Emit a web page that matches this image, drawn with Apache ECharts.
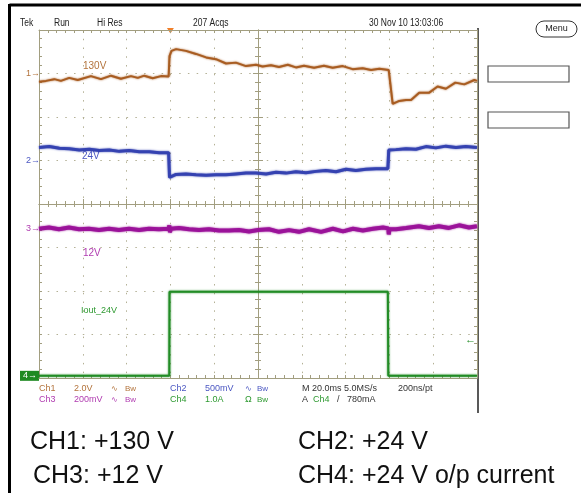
<!DOCTYPE html>
<html>
<head>
<meta charset="utf-8">
<script src="https://cdn.jsdelivr.net/npm/echarts@6/dist/echarts.min.js"></script>
<style>
  html, body { margin: 0; padding: 0; background: #fff; }
  #scope { width: 581px; height: 493px; }
</style>
</head>
<body>
<div id="scope"></div>
<script>
// time: ms from screen centre (20 ms/div), level: divisions from centre
const ch1Time = [-100, -96.8, -93.0, -90.0, -86.2, -82.3, -76.3, -71.7, -67.1, -62.6, -58.0, -54.9, -51.9, -48.1, -44.3, -40.8,
  -40.4, -39.5, -37.4, -32.9, -28.3, -23.7, -19.2, -14.6, -10.1, -5.5, -0.9, 2.1, 5.9, 9.6, 13.6, 17.3, 21.0, 25.6, 30.1,
  34.1, 38.7, 43.2, 47.8, 51.6, 55.4, 59.7, 61.5, 64.5, 67.6, 69.9, 73.6, 78.2, 82.0, 85.8, 90.1, 94.2, 98.8, 100];
const ch1Div = [2.81, 2.83, 2.87, 2.83, 2.90, 2.85, 2.94, 2.87, 2.95, 2.88, 2.94, 2.90, 2.95, 2.89, 2.94, 2.93,
  3.40, 3.52, 3.56, 3.52, 3.45, 3.37, 3.33, 3.23, 3.25, 3.17, 3.20, 3.16, 3.19, 3.15, 3.20, 3.14, 3.18, 3.13, 3.18,
  3.13, 3.17, 3.10, 3.12, 3.08, 3.11, 3.08, 2.30, 2.37, 2.39, 2.39, 2.56, 2.56, 2.70, 2.65, 2.79, 2.75, 2.85, 2.83];

const ch2Time = [-100, -95.3, -90.7, -86.2, -81.6, -77.0, -72.5, -67.9, -63.3, -58.8, -54.2, -49.6, -45.1, -40.8,
  -40.4, -37.4, -32.9, -28.3, -23.7, -19.2, -14.6, -10.1, -5.5, -0.9, 3.7, 8.2, 12.8, 17.3, 21.9, 26.5, 31.0, 35.6,
  40.2, 44.7, 49.3, 53.9, 59.3, 59.7, 63.0, 67.6, 72.1, 76.7, 81.2, 85.8, 90.4, 94.9, 100];
const ch2Div = [1.30, 1.32, 1.28, 1.27, 1.24, 1.26, 1.23, 1.24, 1.21, 1.23, 1.20, 1.20, 1.18, 1.18,
  0.61, 0.68, 0.69, 0.67, 0.66, 0.67, 0.67, 0.69, 0.71, 0.71, 0.69, 0.73, 0.71, 0.74, 0.72, 0.75, 0.77, 0.74,
  0.80, 0.77, 0.80, 0.81, 0.81, 1.24, 1.25, 1.27, 1.26, 1.32, 1.29, 1.33, 1.30, 1.32, 1.30];

const ch3Time = [-100, -95.4, -90.9, -86.3, -81.7, -77.2, -72.6, -68.0, -63.5, -58.9, -54.3, -49.8, -45.2, -40.8,
  -40.5, -40.2, -39.8, -36.1, -31.5, -26.9, -22.4, -17.8, -13.2, -8.7, -4.1, 0, 5.0, 9.6, 14.2, 18.7, 23.3, 28.8,
  34.2, 38.8, 43.4, 47.9, 52.5, 57.1, 59.5, 59.7, 60.0, 63.0, 67.6, 73.5, 78.1, 82.6, 87.2, 91.8, 96.3, 100];
const ch3Div = [-0.57, -0.54, -0.58, -0.54, -0.58, -0.57, -0.60, -0.57, -0.60, -0.57, -0.60, -0.57, -0.58, -0.57,
  -0.49, -0.65, -0.57, -0.55, -0.58, -0.60, -0.58, -0.61, -0.61, -0.60, -0.63, -0.60, -0.58, -0.64, -0.60, -0.64,
  -0.58, -0.64, -0.57, -0.63, -0.57, -0.61, -0.57, -0.54, -0.56, -0.70, -0.58, -0.58, -0.55, -0.51, -0.55, -0.51,
  -0.55, -0.49, -0.54, -0.51];

const ch4Time = [-100, -40.5, -40.4, 59.3, 59.5, 100];
const ch4Div = [-3.95, -3.95, -2.02, -2.02, -3.95, -3.95];

const refLevels = [3.0, 1.0, -0.56, -3.95];
const triggerTime = -40;
const triggerLevel = -3.13;

const gridColor = '#a29e80';
const dotColor = '#b3b095';
const traceColors = ['#a65a1e', '#3340b0', '#9a1199', '#1f8a22'];
const textColors = ['#b3733c', '#4b57c2', '#b03cb0', '#2f9a32'];
const font = '"Liberation Sans", Arial, sans-serif';

const chart = echarts.init(document.getElementById('scope'));

function axis(extra) {
  const a = {
    type: 'value',
    axisLabel: { show: false },
    splitLine: { show: false },
    axisLine: { show: true, onZero: false, lineStyle: { color: gridColor, width: 1 } },
    axisTick: { show: true, inside: true, length: 3, lineStyle: { color: gridColor } },
    minorTick: { show: true, splitNumber: 5, length: 3, lineStyle: { color: gridColor } }
  };
  return Object.assign(a, extra);
}
const xRange = { min: -100, max: 100, interval: 20 };
const yRange = { min: -4, max: 4, interval: 1 };
const dotted = { show: true, lineStyle: { color: dotColor, type: [1.5, 7.26], width: 1 } };
const centre = { show: true, onZero: true, onZeroAxisIndex: 0, lineStyle: { color: gridColor, width: 1 } };

function trace(t, v, color, width) {
  return {
    type: 'line',
    data: t.map((x, i) => [x, v[i]]),
    showSymbol: false,
    animation: false,
    silent: true,
    lineStyle: { color, width, shadowColor: color, shadowBlur: 2, opacity: 0.95 }
  };
}

chart.setOption({
  backgroundColor: '#fff',
  animation: false,
  grid: { left: 39, right: 104, top: 30, bottom: 115, outerBoundsMode: 'none' },
  xAxis: [
    axis(Object.assign({ position: 'bottom', splitLine: dotted }, xRange)),
    axis(Object.assign({ position: 'top' }, xRange)),
    axis(Object.assign({ position: 'bottom', axisLine: centre, axisTick: { show: true, inside: true, length: 5, lineStyle: { color: gridColor } } }, xRange)),
    axis(Object.assign({ position: 'bottom', axisLine: centre, axisTick: { show: true, inside: false, length: 5, lineStyle: { color: gridColor } } }, xRange))
  ],
  yAxis: [
    axis(Object.assign({ position: 'left', splitLine: dotted }, yRange)),
    axis(Object.assign({ position: 'right' }, yRange)),
    axis(Object.assign({ position: 'left', axisLine: centre, axisTick: { show: true, inside: true, length: 5, lineStyle: { color: gridColor } } }, yRange)),
    axis(Object.assign({ position: 'left', axisLine: centre, axisTick: { show: true, inside: false, length: 5, lineStyle: { color: gridColor } } }, yRange))
  ],
  series: [
    trace(ch1Time, ch1Div, traceColors[0], 2),
    trace(ch2Time, ch2Div, traceColors[1], 3),
    trace(ch3Time, ch3Div, traceColors[2], 4),
    trace(ch4Time, ch4Div, traceColors[3], 2)
  ]
});

function txt(x, y, text, fill, size, extra) {
  return Object.assign({
    type: 'text', x, y, silent: true,
    style: { text, fill, font: size + 'px ' + font, verticalAlign: 'middle' }
  }, extra || {});
}

const px = (t, v) => chart.convertToPixel({ xAxisIndex: 0, yAxisIndex: 0 }, [t, v]);
const leftX = px(-100, 0)[0];
const g = [];

// page frame
g.push({ type: 'line', silent: true, shape: { x1: 9.5, y1: 5, x2: 581, y2: 5 }, style: { stroke: '#000', lineWidth: 3 } });
g.push({ type: 'line', silent: true, shape: { x1: 9.5, y1: 4, x2: 9.5, y2: 493 }, style: { stroke: '#000', lineWidth: 3 } });
g.push({ type: 'line', silent: true, shape: { x1: 478, y1: 28, x2: 478, y2: 413 }, style: { stroke: '#222', lineWidth: 1.5 } });

// top status row
const narrow = { scaleX: 0.85 };
g.push(txt(20, 23, 'Tek', '#222', 10, narrow));
g.push(txt(54, 23, 'Run', '#222', 10, narrow));
g.push(txt(97, 23, 'Hi Res', '#222', 10, narrow));
g.push(txt(193, 23, '207 Acqs', '#222', 10, narrow));
g.push(txt(369, 23, '30 Nov 10 13:03:06', '#222', 10, narrow));
g.push({ type: 'rect', silent: true, shape: { x: 536, y: 21, width: 41, height: 16, r: 8 }, style: { fill: '#fff', stroke: '#333', lineWidth: 1 } });
g.push(txt(556.5, 29, 'Menu', '#222', 9, { style: { text: 'Menu', fill: '#222', font: '9px ' + font, align: 'center', verticalAlign: 'middle' } }));
g.push({ type: 'rect', silent: true, shape: { x: 488, y: 66, width: 81, height: 16 }, style: { fill: '#fff', stroke: '#555', lineWidth: 1.2 } });
g.push({ type: 'rect', silent: true, shape: { x: 488, y: 112, width: 81, height: 16 }, style: { fill: '#fff', stroke: '#555', lineWidth: 1.2 } });

// trigger position and level markers
const tp = px(triggerTime, 4);
g.push({ type: 'polygon', silent: true, shape: { points: [[tp[0] - 3.5, tp[1] - 2], [tp[0] + 3.5, tp[1] - 2], [tp[0], tp[1] + 3.5]] }, style: { fill: '#f07f2a' } });
const tl = px(100, triggerLevel);
g.push(txt(tl[0] - 1, tl[1], '\u2190', traceColors[3], 11, { style: { text: '\u2190', fill: traceColors[3], font: '11px ' + font, align: 'right', verticalAlign: 'middle' } }));

// channel ground markers
refLevels.forEach((lv, i) => {
  const y = px(-100, lv)[1];
  if (i === 3) {
    g.push({ type: 'rect', silent: true, shape: { x: 20, y: y - 5, width: leftX - 20, height: 10 }, style: { fill: traceColors[3] } });
    g.push(txt(23, y, '4\u2192', '#fff', 9));
  } else {
    g.push(txt(26, y, (i + 1) + '\u2192', textColors[i], 9));
  }
});

// channel captions on screen
g.push(txt(83, 66, '130V', textColors[0], 10));
g.push(txt(82, 156, '24V', textColors[1], 10));
g.push(txt(83, 253, '12V', textColors[2], 10));
g.push(txt(81, 311, 'Iout_24V', textColors[3], 9));

// settings rows under the graticule
const r1 = 389, r2 = 400;
g.push(txt(39, r1, 'Ch1', textColors[0], 9));
g.push(txt(74, r1, '2.0V', textColors[0], 9));
g.push(txt(111, r1, '\u223F', textColors[0], 8));
g.push(txt(125, r1, 'Bw', textColors[0], 8));
g.push(txt(170, r1, 'Ch2', textColors[1], 9));
g.push(txt(205, r1, '500mV', textColors[1], 9));
g.push(txt(245, r1, '\u223F', textColors[1], 8));
g.push(txt(257, r1, 'Bw', textColors[1], 8));
g.push(txt(302, r1, 'M 20.0ms 5.0MS/s', '#333', 9));
g.push(txt(398, r1, '200ns/pt', '#333', 9));
g.push(txt(39, r2, 'Ch3', textColors[2], 9));
g.push(txt(74, r2, '200mV', textColors[2], 9));
g.push(txt(111, r2, '\u223F', textColors[2], 8));
g.push(txt(125, r2, 'Bw', textColors[2], 8));
g.push(txt(170, r2, 'Ch4', textColors[3], 9));
g.push(txt(205, r2, '1.0A', textColors[3], 9));
g.push(txt(245, r2, '\u03A9', textColors[3], 9));
g.push(txt(257, r2, 'Bw', textColors[3], 8));
g.push(txt(302, r2, 'A', '#333', 9));
g.push(txt(313, r2, 'Ch4', textColors[3], 9));
g.push(txt(337, r2, '/', '#333', 9));
g.push(txt(347, r2, '780mA', '#333', 9));

// caption below the screenshot
g.push(txt(30, 442, 'CH1: +130 V', '#111', 25));
g.push(txt(33, 476, 'CH3: +12 V', '#111', 25));
g.push(txt(298, 442, 'CH2: +24 V', '#111', 25));
g.push(txt(298, 476, 'CH4: +24 V o/p current', '#111', 25));

chart.setOption({ graphic: g });
</script>
</body>
</html>
